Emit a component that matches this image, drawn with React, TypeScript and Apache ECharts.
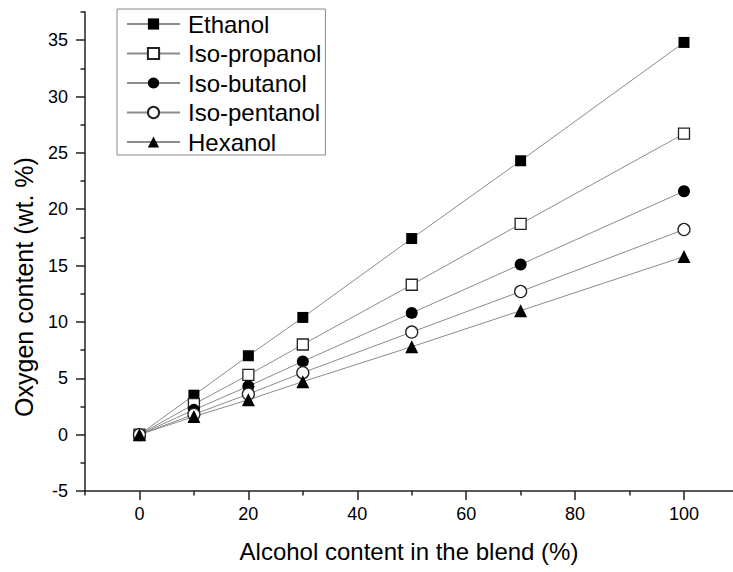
import React, { useEffect, useRef } from "react";
import * as echarts from "echarts";

// Alcohol content in the blend (%)
const alcoholContent = [0, 10, 20, 30, 50, 70, 100];

// Oxygen content of each blend (wt.%)
const ethanol = [0, 3.5, 7.0, 10.4, 17.4, 24.3, 34.8];
const isoPropanol = [0, 2.7, 5.3, 8.0, 13.3, 18.7, 26.7];
const isoButanol = [0, 2.2, 4.3, 6.5, 10.8, 15.1, 21.6];
const isoPentanol = [0, 1.8, 3.6, 5.5, 9.1, 12.7, 18.2];
const hexanol = [0, 1.6, 3.1, 4.7, 7.8, 11.0, 15.8];

// Axis ticks
const xMajorTicks = [0, 20, 40, 60, 80, 100];
const xMinorTicks = [-10, 10, 30, 50, 70, 90];
const yMajorTicks = [-5, 0, 5, 10, 15, 20, 25, 30, 35];
const yMinorTicks = [-2.5, 2.5, 7.5, 12.5, 17.5, 22.5, 27.5, 32.5, 37.5];

const FONT = '"Liberation Sans", Arial, Helvetica, sans-serif';
const LINE_GREY = "#8c8c8c";
const AXIS_COLOR = "#222";

type SeriesDef = {
  name: string;
  values: number[];
  symbol: string;
  size: number;
  hollow: boolean;
};

const seriesDefs: SeriesDef[] = [
  { name: "Ethanol", values: ethanol, symbol: "rect", size: 11, hollow: false },
  { name: "Iso-propanol", values: isoPropanol, symbol: "rect", size: 11, hollow: true },
  { name: "Iso-butanol", values: isoButanol, symbol: "circle", size: 12, hollow: false },
  { name: "Iso-pentanol", values: isoPentanol, symbol: "circle", size: 12, hollow: true },
  { name: "Hexanol", values: hexanol, symbol: "triangle", size: 13, hollow: false },
];

export default function App() {
  const ref = useRef<HTMLDivElement>(null);

  useEffect(() => {
    if (!ref.current) return;
    const chart = echarts.init(ref.current, undefined, { renderer: "svg" });

    const tickLabel = { fontFamily: FONT, fontSize: 18, color: "#000" };
    const tickLine = { color: AXIS_COLOR, width: 1.5 };

    chart.setOption({
      animation: false,
      backgroundColor: "#fff",
      grid: { left: 85, right: 0, top: 12, bottom: 81, containLabel: false },
      legend: {
        orient: "vertical",
        left: 117,
        top: 9,
        padding: [3, 4, 1, 9],
        itemWidth: 53,
        itemHeight: 14,
        itemGap: 5.5,
        borderColor: "#8a8a8a",
        borderWidth: 1,
        textStyle: {
          fontFamily: FONT,
          fontSize: 24,
          lineHeight: 24,
          color: "#000",
          padding: [0, 0, 0, 3],
        },
        data: seriesDefs.map((s) => s.name),
      },
      xAxis: [
        {
          type: "value",
          min: -10,
          max: 109,
          name: "Alcohol content in the blend (%)",
          nameLocation: "middle",
          nameGap: 48,
          nameMoveOverlap: false,
          nameTextStyle: { fontFamily: FONT, fontSize: 24, color: "#000" },
          axisLine: { show: true, onZero: false, lineStyle: { color: AXIS_COLOR, width: 1.5 } },
          axisTick: { show: true, length: 9, customValues: xMajorTicks, lineStyle: tickLine },
          axisLabel: { ...tickLabel, margin: 14, customValues: xMajorTicks },
          splitLine: { show: false },
        },
        {
          // minor ticks
          type: "value",
          position: "bottom",
          min: -10,
          max: 109,
          axisLine: { show: false, onZero: false },
          axisTick: { show: true, length: 4.5, customValues: xMinorTicks, lineStyle: tickLine },
          axisLabel: { show: false },
          splitLine: { show: false },
        },
      ],
      yAxis: [
        {
          type: "value",
          min: -5,
          max: 37.5,
          axisLine: { show: true, onZero: false, lineStyle: { color: AXIS_COLOR, width: 1.5 } },
          axisTick: { show: true, length: 9, customValues: yMajorTicks, lineStyle: tickLine },
          axisLabel: { ...tickLabel, margin: 17, customValues: yMajorTicks },
          splitLine: { show: false },
        },
        {
          // minor ticks
          type: "value",
          position: "left",
          min: -5,
          max: 37.5,
          axisLine: { show: false, onZero: false },
          axisTick: { show: true, length: 4.5, customValues: yMinorTicks, lineStyle: tickLine },
          axisLabel: { show: false },
          splitLine: { show: false },
        },
      ],
      graphic: [
        {
          type: "text",
          x: 24,
          y: 287,
          rotation: Math.PI / 2,
          style: {
            text: "Oxygen content (wt. %)",
            fontFamily: FONT,
            fontSize: 25,
            fill: "#000",
            align: "center",
            verticalAlign: "middle",
          },
        },
      ],
      series: seriesDefs.map((s) => ({
        name: s.name,
        type: "line",
        xAxisIndex: 0,
        yAxisIndex: 0,
        data: alcoholContent.map((x, i) => [x, s.values[i]]),
        symbol: s.symbol,
        symbolSize: s.size,
        showSymbol: true,
        lineStyle: { color: LINE_GREY, width: 1 },
        itemStyle: s.hollow
          ? { color: "#fff", borderColor: "#222", borderWidth: 1.3 }
          : { color: "#000", borderWidth: 0 },
        emphasis: { disabled: true },
      })),
    });

    return () => chart.dispose();
  }, []);

  return (
    <div
      ref={ref}
      style={{ position: "fixed", left: 0, top: 0, width: 733, height: 572 }}
    />
  );
}
